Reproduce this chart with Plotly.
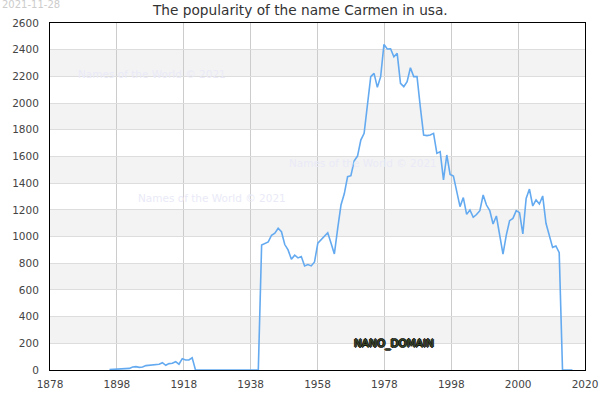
import plotly.graph_objects as go

years = list(range(1880, 2021))
counts = [
    # 1880-1906
    3, 5, 7, 8, 8, 10, 12, 22, 25, 20, 22, 33, 35, 36, 40, 43, 55, 35, 48, 50,
    62, 43, 85, 75, 75, 92, 0,
    # 1907-1925
    0, 0, 0, 0, 0, 0, 0, 0, 0, 0, 0, 0, 0, 0, 0, 0, 0, 0, 0,
    # 1926-1950
    937, 950, 960, 1010, 1025, 1062, 1036, 940, 900, 830, 860, 840, 850, 780,
    790, 780, 810, 950, 975, 1000, 1029, 950, 870, 1060, 1236,
    # 1951-1975
    1320, 1449, 1456, 1568, 1603, 1723, 1773, 1990, 2198, 2223, 2118, 2198,
    2440, 2405, 2407, 2347, 2373, 2148, 2123, 2161, 2265, 2198, 2198, 1970, 1761,
    # 1976-2000
    1756, 1761, 1773, 1623, 1636, 1424, 1611, 1466, 1454, 1336, 1224, 1292,
    1166, 1199, 1144, 1165, 1194, 1311, 1236, 1194, 1094, 1154, 1011, 869, 1011,
    # 2001-2020
    1119, 1136, 1194, 1179, 1019, 1286, 1356, 1229, 1274, 1244, 1304, 1099,
    1011, 919, 929, 879, 0, 0, 0, 0,
]

x_tick_labels = ["1878", "1898", "1918", "1938", "1958", "1978", "1998", "2000", "2020"]
y_ticks = list(range(0, 2601, 200))

title_text = "The popularity of the name Carmen in usa."
date_text = "2021-11-28"
watermark = "Names of the World © 2021"
watermark_pos = [(152, 74), (212, 198), (363, 163)]
badge_text = "NANO_DOMAIN"

X0, X1 = 1862.0, 2023.8
W, H = 600, 400
L, R, T, B = 50, 15, 23, 30

tickvals = [X0 + k * (X1 - X0) / (len(x_tick_labels) - 1) for k in range(len(x_tick_labels))]

fig = go.Figure()
fig.add_trace(go.Scatter(
    x=years, y=counts, mode="lines",
    line=dict(color="#64aaf0", width=1.6),
    hoverinfo="skip", showlegend=False,
))

shapes = []
for lo in range(200, 2600, 400):
    shapes.append(dict(type="rect", xref="paper", yref="y", x0=0, x1=1,
                       y0=lo, y1=lo + 200, fillcolor="#f3f3f3",
                       line=dict(width=0), layer="below"))

annotations = [
    dict(text=title_text, xref="paper", yref="paper", x=(300 - L) / (W - L - R),
         y=1 + (T - 10) / (H - T - B), xanchor="center", yanchor="middle",
         showarrow=False, font=dict(size=13.7, color="#333333", family="DejaVu Sans")),
    dict(text=date_text, xref="paper", yref="paper", x=(0 - L) / (W - L - R),
         y=1 + (T - 4.5) / (H - T - B), xanchor="left", yanchor="middle",
         showarrow=False, font=dict(size=10, color="#cccccc", family="DejaVu Sans")),
]
for (px, py) in watermark_pos:
    annotations.append(dict(
        text=watermark, xref="paper", yref="paper",
        x=(px - L) / (W - L - R), y=1 - (py - T) / (H - T - B),
        xanchor="center", yanchor="middle", showarrow=False,
        font=dict(size=10.5, color="#eaeaf7", family="DejaVu Sans")))
annotations.append(dict(
    text=badge_text, xref="paper", yref="paper",
    x=(394 - L) / (W - L - R), y=1 - (343 - T) / (H - T - B),
    xanchor="center", yanchor="middle", showarrow=False,
    font=dict(size=10.5, color="#3c4a26", family="DejaVu Sans",
              shadow="1px 0 0 #111, -1px 0 0 #111, 0 1px 0 #111, 0 -1px 0 #111")))

fig.update_layout(
    width=W, height=H,
    margin=dict(l=L, r=R, t=T, b=B, pad=0, autoexpand=False),
    paper_bgcolor="white", plot_bgcolor="white",
    shapes=shapes, annotations=annotations,
    font=dict(family="DejaVu Sans", size=10.5, color="#444444"),
    xaxis=dict(range=[X0, X1], tickmode="array", tickvals=tickvals,
               ticktext=x_tick_labels, showgrid=True, gridcolor="#cccccc",
               gridwidth=1, showline=True, linecolor="black", linewidth=1,
               mirror=True, ticks="", zeroline=False, ticklabelstandoff=4,
               automargin=False),
    yaxis=dict(range=[0, 2600], tickmode="array", tickvals=y_ticks,
               showgrid=True, gridcolor="#dddddd", gridwidth=1,
               showline=True, linecolor="black", linewidth=1, mirror=True,
               ticks="", zeroline=False, ticklabelstandoff=8,
               automargin=False),
)

fig.write_html("out.html",
               config={"displayModeBar": False, "staticPlot": True},
               post_script="document.body.style.margin='0';document.body.style.overflow='hidden';")
